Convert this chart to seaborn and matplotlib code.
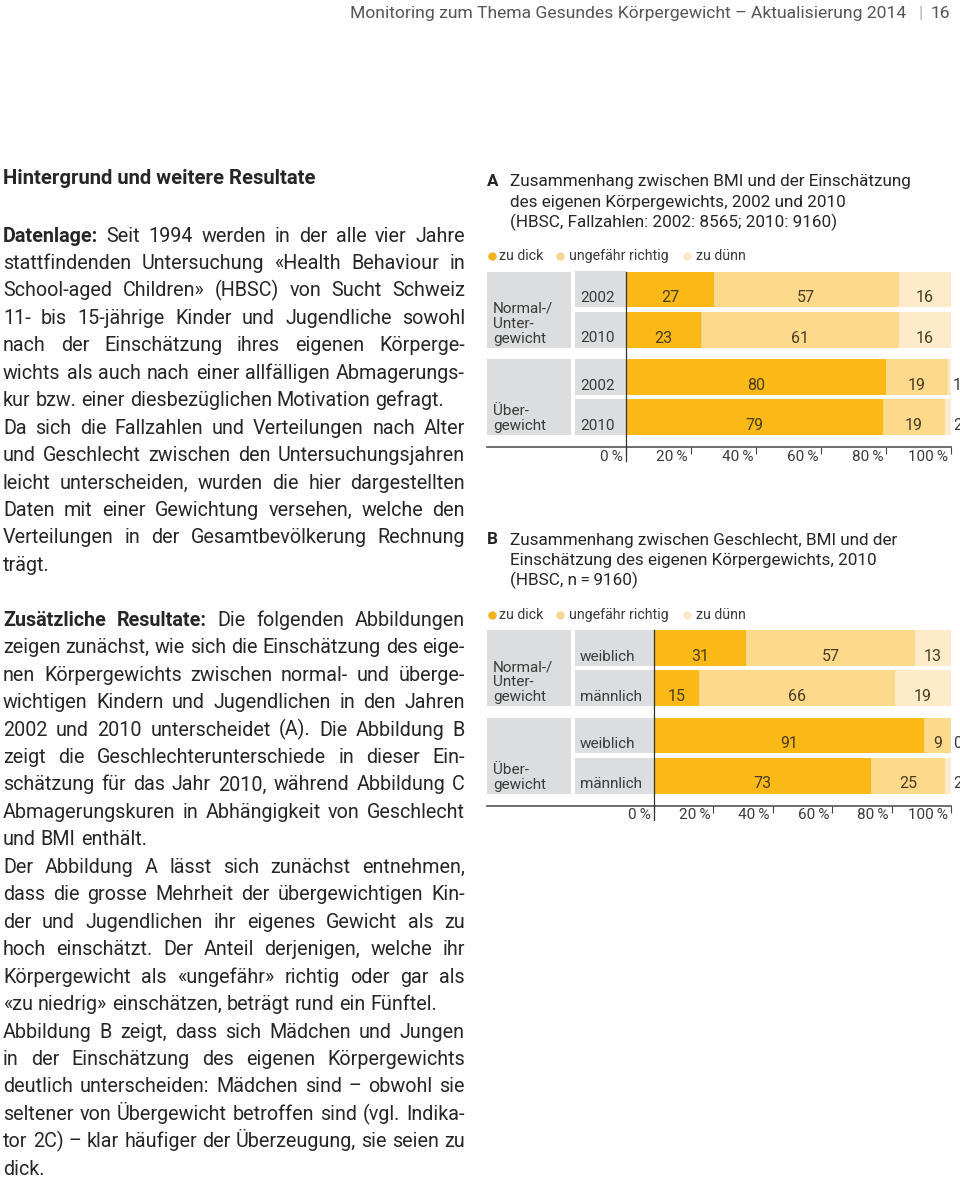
import matplotlib
matplotlib.use('Agg')
import matplotlib.pyplot as plt
from matplotlib.patches import Rectangle
from matplotlib.lines import Line2D
from matplotlib.transforms import ScaledTranslation
import seaborn as sns
import pandas as pd

# Daten
kategorien = ['zu dick', 'ungefähr richtig', 'zu dünn']
farben = ['#fbb917', '#fdd98b', '#feebc9']
punktfarben = ['#f3b120', '#f8d795', '#fbe9cb']

gruppen = [['Normal-/', 'Unter-', 'gewicht'], ['Über-', 'gewicht']]

a_zeilen = ['2002', '2010']
a_zu_dick = [27, 23, 80, 79]
a_richtig = [57, 61, 19, 19]
a_zu_duenn = [16, 16, 1, 2]

b_zeilen = ['weiblich', 'männlich']
b_zu_dick = [31, 15, 91, 73]
b_richtig = [57, 66, 9, 25]
b_zu_duenn = [13, 19, 0, 2]

ticks = [0, 20, 40, 60, 80, 100]
tick_labels = [f'{t}\u2009%' for t in ticks]

a_titel = ['Zusammenhang zwischen BMI und der Einschätzung',
           'des eigenen Körpergewichts, 2002 und 2010',
           '(HBSC, Fallzahlen: 2002: 8565; 2010: 9160)']
b_titel = ['Zusammenhang zwischen Geschlecht, BMI und der',
           'Einschätzung des eigenen Körpergewichts, 2010',
           '(HBSC, n\u2009=\u20099160)']

kopfzeile = 'Monitoring zum Thema Gesundes Körpergewicht – Aktualisierung 2014'
seite = '16'
ueberschrift = 'Hintergrund und weitere Resultate'
fett = {'Datenlage:', 'Zusätzliche', 'Resultate:'}

# (Zeile, Blocksatz)
textzeilen = [
    ('Datenlage: Seit 1994 werden in der alle vier Jahre', True),
    ('stattfindenden Untersuchung «Health Behaviour in', True),
    ('School-aged Children» (HBSC) von Sucht Schweiz', True),
    ('11- bis 15-jährige Kinder und Jugendliche sowohl', True),
    ('nach der Einschätzung ihres eigenen Körperge-', True),
    ('wichts als auch nach einer allfälligen Abmagerungs-', True),
    ('kur bzw. einer diesbezüglichen Motivation gefragt.', False),
    ('Da sich die Fallzahlen und Verteilungen nach Alter', True),
    ('und Geschlecht zwischen den Untersuchungsjahren', True),
    ('leicht unterscheiden, wurden die hier dargestellten', True),
    ('Daten mit einer Gewichtung versehen, welche den', True),
    ('Verteilungen in der Gesamtbevölkerung Rechnung', True),
    ('trägt.', False),
    ('', False),
    ('Zusätzliche Resultate: Die folgenden Abbildungen', True),
    ('zeigen zunächst, wie sich die Einschätzung des eige-', True),
    ('nen Körpergewichts zwischen normal- und überge-', True),
    ('wichtigen Kindern und Jugendlichen in den Jahren', True),
    ('2002 und 2010 unterscheidet (A). Die Abbildung B', True),
    ('zeigt die Geschlechterunterschiede in dieser Ein-', True),
    ('schätzung für das Jahr 2010, während Abbildung C', True),
    ('Abmagerungskuren in Abhängigkeit von Geschlecht', True),
    ('und BMI enthält.', False),
    ('Der Abbildung A lässt sich zunächst entnehmen,', True),
    ('dass die grosse Mehrheit der übergewichtigen Kin-', True),
    ('der und Jugendlichen ihr eigenes Gewicht als zu', True),
    ('hoch einschätzt. Der Anteil derjenigen, welche ihr', True),
    ('Körpergewicht als «ungefähr» richtig oder gar als', True),
    ('«zu niedrig» einschätzen, beträgt rund ein Fünftel.', False),
    ('Abbildung B zeigt, dass sich Mädchen und Jungen', True),
    ('in der Einschätzung des eigenen Körpergewichts', True),
    ('deutlich unterscheiden: Mädchen sind – obwohl sie', True),
    ('seltener von Übergewicht betroffen sind (vgl. Indika-', True),
    ('tor 2C) – klar häufiger der Überzeugung, sie seien zu', True),
    ('dick.', False),
]

plt.rcParams['font.family'] = ['Roboto', 'DejaVu Sans']

W, H = 960, 1179
TXT = '#262626'
CTXT = '#3a3a3a'
WERT = '#4a3c22'
GRAU = '#dcddde'

fig = plt.figure(figsize=(W / 100, H / 100), dpi=100)
renderer = fig.canvas.get_renderer()


def fx(x):
    return x / W


def fy(y):
    return 1 - y / H


def box(x0, y0, x1, y1, farbe):
    fig.add_artist(Rectangle((fx(x0), fy(y1)), (x1 - x0) / W, (y1 - y0) / H,
                             transform=fig.transFigure, color=farbe, lw=0, zorder=0))


def linie(xs, ys, **kw):
    fig.add_artist(Line2D([fx(x) for x in xs], [fy(y) for y in ys],
                          transform=fig.transFigure, **kw))


def breite(s, size, weight='normal'):
    t = fig.text(0, 0, s, fontsize=size, weight=weight)
    w = t.get_window_extent(renderer).width
    t.remove()
    return w


# Kopfzeile
fig.text(fx(950), fy(18), seite, fontsize=12.5, color='#555555', ha='right', va='baseline')
fig.text(fx(921), fy(18), '|', fontsize=12.5, color='#aaaaaa', ha='center', va='baseline')
fig.text(fx(906), fy(18), kopfzeile, fontsize=12.6, color='#555555', ha='right', va='baseline')

# Fliesstext links, Blocksatz (Schriftgrösse pro Zeile nur verkleinert, wenn nötig)
links, rechts = 3, 465
gross = 14.2
leer0 = breite('x x', gross) - breite('xx', gross)

fig.text(fx(links), fy(184), ueberschrift, fontsize=14.6, weight='bold', color=TXT, va='baseline')

for i, (zeile, block) in enumerate(textzeilen):
    if not zeile:
        continue
    y = 241.5 + 27.45 * i
    woerter = zeile.split(' ')
    gew = ['bold' if w in fett else 'normal' for w in woerter]
    br = [breite(w, gross, g) for w, g in zip(woerter, gew)]
    nat = sum(br) + (len(woerter) - 1) * leer0 * 0.7
    s = min(1.0, (rechts - links) / nat)
    size = gross * s
    br = [b * s for b in br]
    if block and len(woerter) > 1:
        luecke = (rechts - links - sum(br)) / (len(woerter) - 1)
    else:
        luecke = leer0 * s
    x = links
    for w, g, b in zip(woerter, gew, br):
        fig.text(fx(x), fy(y), w, fontsize=size, weight=g, color=TXT, va='baseline')
        x += b + luecke


def diagramm(top, x0, zeilen, dick, richtig, duenn, buchstabe, titel):
    x1 = 951
    # Titel
    fig.text(fx(487), fy(top - 85.5), buchstabe, fontsize=12.3, weight='bold', color=TXT, va='baseline')
    for k, t in enumerate(titel):
        fig.text(fx(510), fy(top - 85.5 + 20.5 * k), t, fontsize=12.3, color=TXT, va='baseline')

    # Legende
    ly = top - 11.5
    for lab, pf, px, tx in zip(kategorien, punktfarben, [491.5, 560, 687], [499, 569, 696]):
        fig.add_artist(Line2D([fx(px)], [fy(ly - 4)], marker='o', markersize=5, color=pf,
                              lw=0, transform=fig.transFigure))
        fig.text(fx(tx), fy(ly), lab, fontsize=10.2, color=CTXT, va='baseline')

    pitch = 76 / 1.89
    for g in range(2):
        gt = top + 87.5 * g
        gb = gt + 76
        box(487, gt, 571, gb, GRAU)
        zeilen_g = gruppen[g]
        for k, l in enumerate(zeilen_g):
            fig.text(fx(493), fy(gb - 5 - 15 * (len(zeilen_g) - 1 - k)), l,
                     fontsize=11, color=CTXT, va='baseline')

        df = pd.DataFrame({'zeile': zeilen,
                           'dick': dick[2 * g:2 * g + 2],
                           'richtig': richtig[2 * g:2 * g + 2],
                           'duenn': duenn[2 * g:2 * g + 2]})
        df['c1'] = df['dick']
        df['c2'] = df['c1'] + df['richtig']
        df['c3'] = df['c2'] + df['duenn']

        ax = fig.add_axes([fx(x0), fy(gb), (x1 - x0) / W, 76 / H])
        for col, farbe in zip(['c3', 'c2', 'c1'], farben[::-1]):
            sns.barplot(data=df, x=col, y='zeile', orient='h', color=farbe, saturation=1,
                        width=0.89, errorbar=None, linewidth=0, ax=ax)
        ax.set_xlim(0, 100)
        ax.set_ylim(1.445, -0.445)
        ax.axis('off')

        unten = ax.transData + ScaledTranslation(0, 0.05, fig.dpi_scale_trans)
        aussen = ax.transData + ScaledTranslation(0.02, 0.05, fig.dpi_scale_trans)
        for i, z in enumerate(zeilen):
            rt = gt + pitch * i
            rb = rt + 0.89 * pitch
            box(575, rt, x0, rb, GRAU)
            fig.text(fx(580), fy(rb - 5), z, fontsize=11, color=CTXT, va='baseline')
            start = 0
            for col, wert in zip(['c1', 'c2', 'c3'], ['dick', 'richtig', 'duenn']):
                ende = df.loc[i, col]
                v = df.loc[i, wert]
                if v <= 2:
                    ax.text(100, i + 0.445, str(v), fontsize=11.5, color=CTXT,
                            ha='left', va='baseline', transform=aussen)
                else:
                    mitte = (start + min(ende, 100)) / 2
                    ax.text(mitte, i + 0.445, str(v), fontsize=11.5, color=WERT,
                            ha='center', va='baseline', transform=unten)
                start = ende

    # Achse
    ay = top + 175.5
    linie([487, x1], [ay, ay], color='#555555', lw=1.2)
    linie([x0, x0], [top, ay + 14], color='#333333', lw=0.9)
    sax = fig.add_axes([fx(x0), fy(ay), (x1 - x0) / W, 0.5 / H])
    sax.set_xlim(0, 100)
    sax.set_ylim(0, 1)
    for s in sax.spines.values():
        s.set_visible(False)
    sax.set_yticks([])
    sax.set_xticks(ticks)
    sax.set_xticklabels(tick_labels)
    sax.tick_params(axis='x', bottom=True, length=5, width=0.8, color='#444444',
                    direction='out', pad=-3, labelsize=11, labelcolor=CTXT)
    sax.patch.set_alpha(0)
    for lab in sax.get_xticklabels():
        lab.set_ha('right')
        lab.set_transform(lab.get_transform() + ScaledTranslation(-0.03, 0, fig.dpi_scale_trans))


diagramm(271.5, 626, a_zeilen, a_zu_dick, a_richtig, a_zu_duenn, 'A', a_titel)
diagramm(630, 654, b_zeilen, b_zu_dick, b_richtig, b_zu_duenn, 'B', b_titel)

fig.savefig('out.png', dpi=100, facecolor='white')
